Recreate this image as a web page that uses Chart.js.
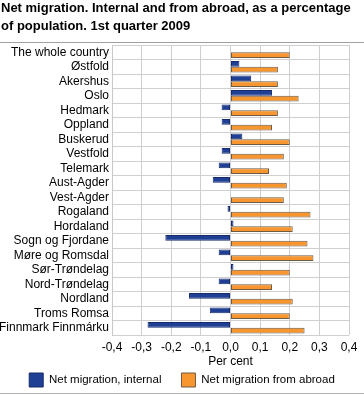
<!DOCTYPE html>
<html>
<head>
<meta charset="utf-8">
<script src="https://cdn.jsdelivr.net/npm/chart.js@4/dist/chart.umd.min.js"></script>
<style>
  html, body { margin: 0; padding: 0; background: #fff; }
  #wrap { position: relative; width: 364px; height: 396px; overflow: hidden; }
  #title { position: absolute; left: 1px; top: -1px; white-space: nowrap; font-family: "Liberation Sans", Arial, sans-serif; font-weight: bold; font-size: 13px; line-height: 17.5px; color: #000; }
  #topline { position: absolute; left: 0; top: 42px; width: 364px; height: 1px; background: #a0a0a0; }
  #botline { position: absolute; left: 0; top: 393px; width: 364px; height: 1px; background: #b0b0b0; }
  canvas { position: absolute; left: 0; top: 0; }
</style>
</head>
<body>
<div id="wrap">
  <canvas id="c" width="364" height="399"></canvas>
  <div id="title">Net migration. Internal and from abroad, as a percentage<br>of population. 1st quarter 2009</div>
  <div id="topline"></div>
  <div id="botline"></div>
</div>
<script>
const categories = ["The whole country","Østfold","Akershus","Oslo","Hedmark","Oppland","Buskerud","Vestfold","Telemark","Aust-Agder","Vest-Agder","Rogaland","Hordaland","Sogn og Fjordane","Møre og Romsdal","Sør-Trøndelag","Nord-Trøndelag","Nordland","Troms Romsa","Finnmark Finnmárku"];
const internalValues = [0.00, 0.03, 0.07, 0.14, -0.03, -0.03, 0.04, -0.03, -0.04, -0.06, 0.00, -0.01, 0.01, -0.22, -0.04, 0.01, -0.04, -0.14, -0.07, -0.28];
const abroadValues = [0.20, 0.16, 0.16, 0.23, 0.16, 0.14, 0.20, 0.18, 0.13, 0.19, 0.18, 0.27, 0.21, 0.26, 0.28, 0.20, 0.14, 0.21, 0.20, 0.25];
const seriesNames = ["Net migration, internal", "Net migration from abroad"];
const xTickValues = [-0.4, -0.3, -0.2, -0.1, 0.0, 0.1, 0.2, 0.3, 0.4];

const FONT = "'Liberation Sans', Arial, sans-serif";
Chart.defaults.font.family = FONT;
Chart.defaults.color = '#000';

new Chart(document.getElementById('c'), {
  type: 'bar',
  data: {
    labels: categories,
    datasets: [
      { label: seriesNames[0], data: internalValues, backgroundColor: '#1f3f94', borderColor: '#162c6a', borderWidth: 1, borderSkipped: false, categoryPercentage: 0.8, barPercentage: 1.0 },
      { label: seriesNames[1], data: abroadValues, backgroundColor: '#f7962f', borderColor: '#6e5a45', borderWidth: 1, borderSkipped: false, categoryPercentage: 0.8, barPercentage: 1.0 }
    ]
  },
  options: {
    indexAxis: 'y',
    responsive: false,
    animation: false,
    layout: { padding: { top: 45, left: 0, right: 0, bottom: 2 } },
    plugins: {
      title: { display: false },
      tooltip: { enabled: false },
      legend: {
        position: 'bottom',
        labels: { boxWidth: 14, boxHeight: 14, padding: 20, font: { size: 11.5 }, color: '#000' }
      }
    },
    scales: {
      x: {
        min: -0.4, max: 0.4,
        afterBuildTicks: (s) => { s.ticks = xTickValues.map(v => ({ value: v })); },
        afterFit: (s) => { s.height = 18; s.paddingRight = 15; },
        ticks: { font: { size: 12 }, color: '#000', padding: 5, maxRotation: 0,
          callback: (v) => Number(v).toFixed(1).replace('.', ',') },
        grid: { color: '#cfcfcf', drawTicks: false, lineWidth: 1 },
        border: { display: false },
        title: { display: true, text: 'Per cent', font: { size: 12 }, color: '#000', padding: { top: 3, bottom: -16 } }
      },
      y: {
        afterFit: (s) => { s.width = 112; },
        ticks: { font: { size: 12 }, color: '#000', padding: 3, autoSkip: false },
        grid: { display: true, drawOnChartArea: true, color: '#cfcfcf', lineWidth: 1, drawTicks: false, offset: true },
        border: { display: true, color: '#c8c8c8' }
      }
    }
  }
});
</script>
</body>
</html>
